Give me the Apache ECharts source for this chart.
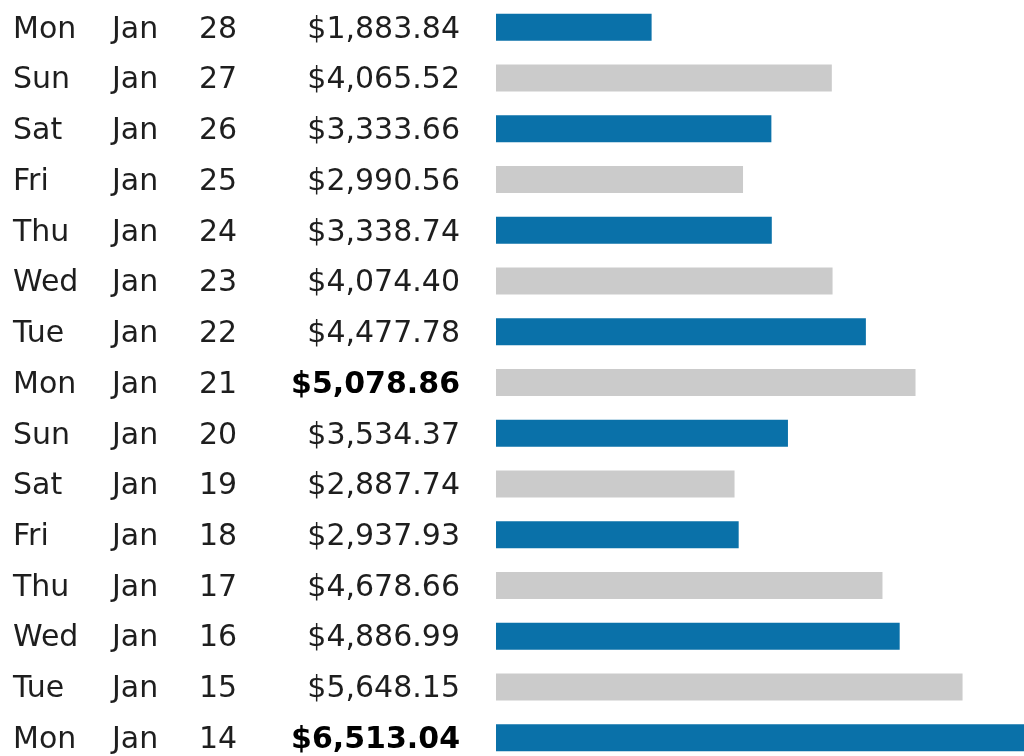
<!DOCTYPE html>
<html><head><meta charset="utf-8">
<script src="https://cdn.jsdelivr.net/npm/echarts@6/dist/echarts.min.js"></script>
<style>html,body{margin:0;padding:0;background:#fff}#c{width:1024px;height:756px}</style>
</head><body><div id="c"></div>
<script>
const weekdays = ['Mon','Sun','Sat','Fri','Thu','Wed','Tue','Mon','Sun','Sat','Fri','Thu','Wed','Tue','Mon'];
const months = ['Jan','Jan','Jan','Jan','Jan','Jan','Jan','Jan','Jan','Jan','Jan','Jan','Jan','Jan','Jan'];
const days = [28,27,26,25,24,23,22,21,20,19,18,17,16,15,14];
const sales = [1883.84,4065.52,3333.66,2990.56,3338.74,4074.40,4477.78,5078.86,3534.37,2887.74,2937.93,4678.66,4886.99,5648.15,6513.04];
const bold = [false,false,false,false,false,false,false,true,false,false,false,false,false,false,true];

const cats = days.map((d,i)=>String(i));
const fmt = v => '$' + v.toLocaleString('en-US',{minimumFractionDigits:2,maximumFractionDigits:2});
const FONT = '"DejaVu Sans", Verdana, sans-serif';
const chart = echarts.init(document.getElementById('c'), null, {renderer:'canvas'});
chart.setOption({
  animation:false,
  backgroundColor:'#fff',
  grid:{left:496, top:2, width:528, height:761, containLabel:false, outerBoundsMode:'none'},
  xAxis:{type:'value', min:0, max:6392, show:false},
  yAxis:{type:'category', data:cats, inverse:true,
    axisLine:{show:false}, axisTick:{show:false}, splitLine:{show:false},
    axisLabel:{align:'left', margin:483, padding:[5,0,0,0],
      formatter:(v)=>{const i=+v; const vs = bold[i]?'vb':'v';
        return '{d|'+weekdays[i]+'}{m|'+months[i]+'}{n|'+days[i]+'}{'+vs+'|'+fmt(sales[i])+'}';},
      rich:{
        d:{width:99, align:'left', fontSize:30, fontFamily:FONT, color:'#1e1e1e'},
        m:{width:87, align:'left', fontSize:30, fontFamily:FONT, color:'#1e1e1e'},
        n:{width:41, align:'left', fontSize:30, fontFamily:FONT, color:'#1e1e1e'},
        v:{width:220, align:'right', fontSize:30, fontFamily:FONT, color:'#1e1e1e'},
        vb:{width:220, align:'right', fontSize:30, fontWeight:'bold', fontFamily:FONT, color:'#000'}
      }
    }
  },
  series:[{type:'bar', data:sales, barWidth:27, clip:true,
    itemStyle:{color:(p)=> p.dataIndex%2===0 ? '#0a71a9' : '#cbcbcb'}}]
});
</script></body></html>
